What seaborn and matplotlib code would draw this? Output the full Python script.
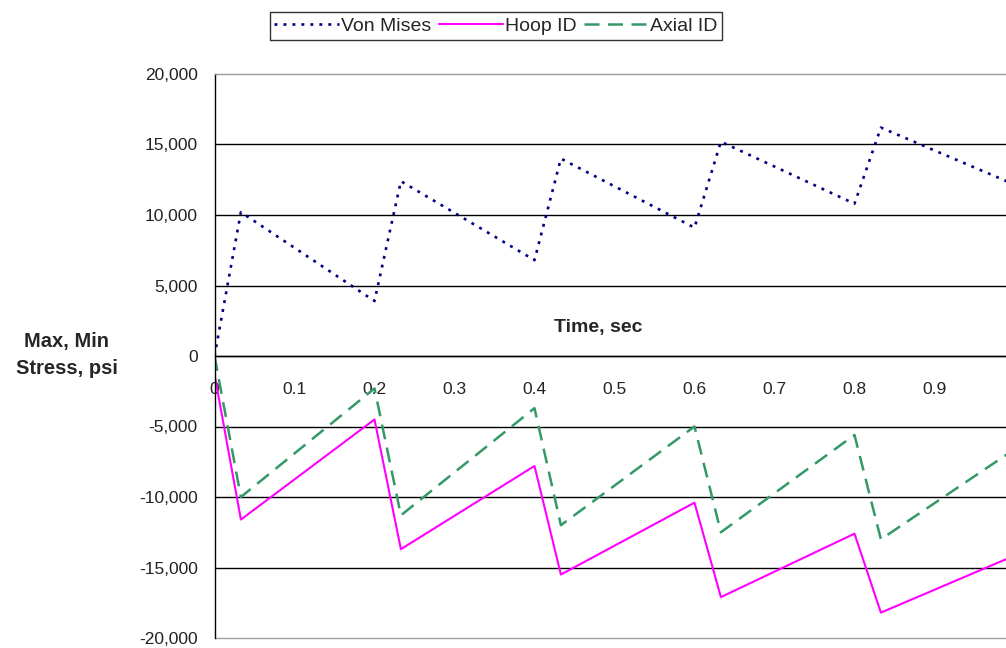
import pandas as pd
import seaborn as sns
import matplotlib.pyplot as plt

# Data (vertices of the saw-tooth curves)
time = [0, 0.033, 0.2, 0.233, 0.4, 0.433, 0.6, 0.633, 0.8, 0.833, 0.99]
von_mises = [0, 10200, 3900, 12400, 6800, 14000, 9100, 15200, 10800, 16200, 12400]
hoop_id = [-1300, -11600, -4500, -13700, -7800, -15500, -10400, -17100, -12600, -18200, -14400]
axial_id = [0, -10000, -2300, -11300, -3700, -12000, -5000, -12500, -5600, -13000, -7000]

y_ticks = list(range(-20000, 20001, 5000))
x_ticks = [0, 0.1, 0.2, 0.3, 0.4, 0.5, 0.6, 0.7, 0.8, 0.9]

sns.set_style('white')
plt.rcParams['font.family'] = ['Liberation Sans', 'DejaVu Sans']

fig = plt.figure(figsize=(10.06, 6.48), dpi=100)
ax = fig.add_axes([214.5 / 1006, 10 / 648, 1 - 214.5 / 1006, 564 / 648])

df = pd.DataFrame({'time': time, 'Von Mises': von_mises,
                   'Hoop ID': hoop_id, 'Axial ID': axial_id})

sns.lineplot(data=df, x='time', y='Von Mises', ax=ax, color='#000080',
             linewidth=1.9, linestyle=(0, (1.1, 2.3)), label='Von Mises')
sns.lineplot(data=df, x='time', y='Hoop ID', ax=ax, color='#FF00FF',
             linewidth=1.5, label='Hoop ID')
sns.lineplot(data=df, x='time', y='Axial ID', ax=ax, color='#339966',
             linewidth=1.8, linestyle=(0, (6, 3.4)), label='Axial ID')

ax.set_xlim(0, 0.9894)
ax.set_ylim(-20000, 20000)
ax.set_yticks(y_ticks)
ax.set_yticklabels([f'{v:,}' for v in y_ticks])
ax.set_xticks(x_ticks)
ax.set_xticklabels([f'{v:g}' for v in x_ticks])

# Excel-like axes: x axis crosses at zero
ax.spines['bottom'].set_position(('data', 0))
ax.spines['right'].set_visible(False)
ax.spines['top'].set_color('#a0a0a0')
for s in ['left', 'bottom']:
    ax.spines[s].set_color('black')
    ax.spines[s].set_linewidth(1.0)
ax.tick_params(axis='both', direction='out', length=6, width=1, color='black',
               labelsize=12.5, labelcolor='#222222')
ax.tick_params(axis='x', pad=13)
ax.tick_params(axis='y', pad=6)

ax.grid(axis='y', color='black', linewidth=1.0)
ax.set_axisbelow(True)
gl = ax.yaxis.get_gridlines()
for g in (gl[0], gl[-1]):
    g.set_color('#a0a0a0')
    g.set_clip_on(False)

ax.set_xlabel('')
ax.set_ylabel('')
ax.text(0.48, 2000, 'Time, sec', fontsize=14, fontweight='bold', ha='center', va='center')
fig.text(67 / 1006, 1 - 355 / 648, 'Max, Min\nStress, psi', fontsize=14.5,
         fontweight='bold', ha='center', va='center', linespacing=1.6)

ax.get_legend().remove()
handles, labels = ax.get_legend_handles_labels()
leg = fig.legend(handles, labels, loc='center', bbox_to_anchor=(496 / 1006, 1 - 26 / 648),
                 ncol=3, fontsize=14, frameon=True, fancybox=False, edgecolor='black',
                 handlelength=3.3, handletextpad=0.1, columnspacing=0.4,
                 borderpad=0.25, borderaxespad=0)
leg.get_frame().set_linewidth(1.0)

fig.savefig('out.png', dpi=100)
